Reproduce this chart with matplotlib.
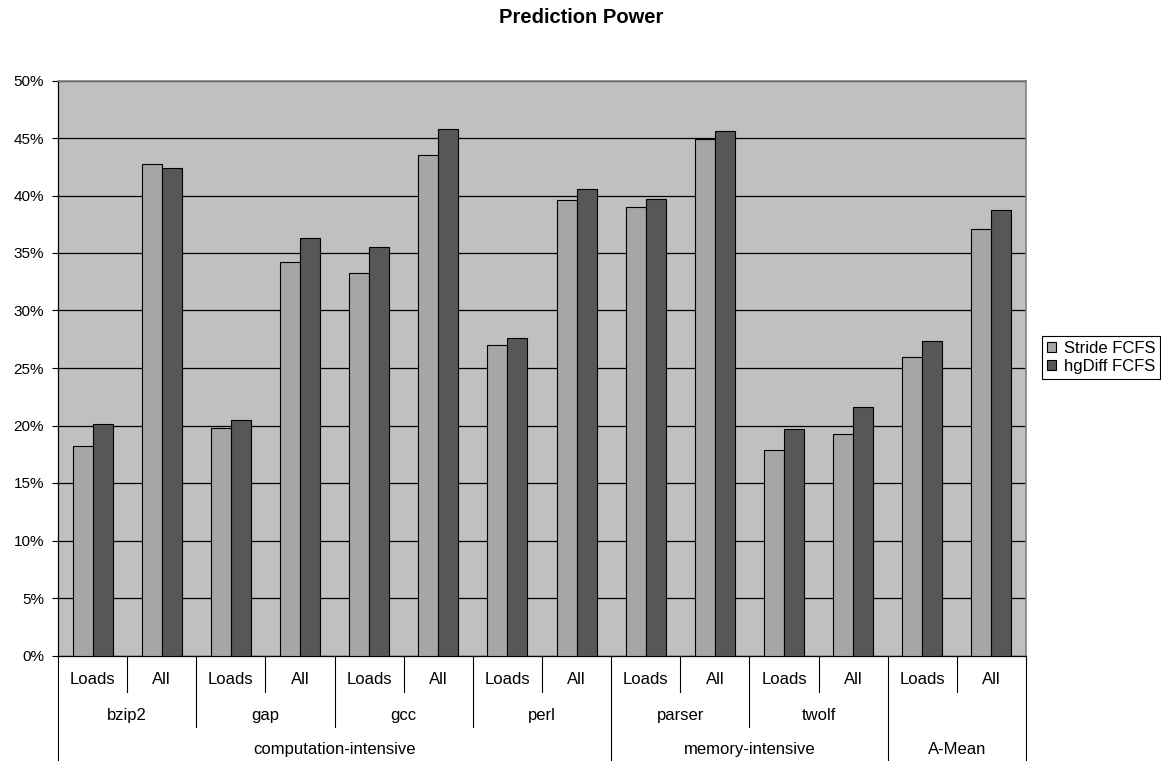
import matplotlib.pyplot as plt
from matplotlib.patches import Patch
from matplotlib.ticker import PercentFormatter
import numpy as np

plt.rcParams['font.family'] = ['Liberation Sans', 'DejaVu Sans']

sub_labels = ["Loads", "All"] * 7
benchmarks = ["bzip2", "gap", "gcc", "perl", "parser", "twolf", ""]
groups = ["computation-intensive", "memory-intensive", "A-Mean"]
group_sizes = [4, 2, 1]   # benchmarks per group

stride = [18.2, 42.7, 19.75, 34.2, 33.3, 43.5, 27.0, 39.6,
          39.0, 44.9, 17.9, 19.3, 26.0, 37.1]
hgdiff = [20.1, 42.4, 20.45, 36.3, 35.5, 45.8, 27.6, 40.6,
          39.7, 45.6, 19.7, 21.6, 27.35, 38.7]

c_stride = "#a6a6a6"
c_hg = "#575757"

fig = plt.figure(figsize=(11.61, 7.61), dpi=100)
ax = fig.add_axes([58/1161, 105.5/761, 968/1161, 575/761])
ax.set_facecolor("#c0c0c0")

x = np.arange(len(stride))
w = 0.29
ax.bar(x - w/2, np.array(stride)/100, w, color=c_stride, edgecolor="black", linewidth=0.8, zorder=3)
ax.bar(x + w/2, np.array(hgdiff)/100, w, color=c_hg, edgecolor="black", linewidth=0.8, zorder=3)

ax.set_xlim(-0.5, len(stride) - 0.5)
ax.set_ylim(0, 0.5)
ax.set_yticks(np.arange(0, 0.51, 0.05))
ax.yaxis.set_major_formatter(PercentFormatter(1.0, decimals=0))
ax.tick_params(axis='y', length=4, width=0.8, pad=6, labelsize=11, direction='out')
ax.set_xticks([])
ax.yaxis.grid(True, color="black", linewidth=0.9)
ax.set_axisbelow(True)
for s in ["top", "right"]:
    ax.spines[s].set_color("#808080")
    ax.spines[s].set_linewidth(1.2)
for s in ["left", "bottom"]:
    ax.spines[s].set_color("black")
    ax.spines[s].set_linewidth(0.9)

# multi-level category axis
tr = ax.get_xaxis_transform()
row1, row2, row3 = -0.0426, -0.1035, -0.1643
d1, d2, d3 = -0.0635, -0.1243, -0.184
fs = 12
for i, lab in enumerate(sub_labels):
    ax.text(i, row1, lab, transform=tr, ha="center", va="center", fontsize=fs)
for i in range(1, len(sub_labels), 2):
    ax.plot([i - 0.5, i - 0.5], [0, d1], transform=tr, color="black", lw=0.8, clip_on=False)
for j, b in enumerate(benchmarks):
    ax.text(2*j + 0.5, row2, b, transform=tr, ha="center", va="center", fontsize=fs)
start = 0
bounds = [0]
for g, n in zip(groups, group_sizes):
    lo = start*2 - 0.5
    hi = (start + n)*2 - 0.5
    ax.text((lo + hi)/2, row3, g, transform=tr, ha="center", va="center", fontsize=fs)
    for k in range(start + 1, start + n):
        ax.plot([2*k - 0.5, 2*k - 0.5], [0, d2], transform=tr, color="black", lw=0.8, clip_on=False)
    start += n
    bounds.append(start)
for b in bounds:
    ax.plot([2*b - 0.5, 2*b - 0.5], [0, d3], transform=tr, color="black", lw=0.8, clip_on=False)

fig.text(581/1161, 1 - 17.5/761, "Prediction Power", ha="center", va="center",
         fontsize=14.5, fontweight="bold")

handles = [Patch(facecolor=c_stride, edgecolor="black", linewidth=0.8),
           Patch(facecolor=c_hg, edgecolor="black", linewidth=0.8)]
leg = fig.legend(handles, ["Stride FCFS", "hgDiff FCFS"], loc="upper left",
                 bbox_to_anchor=(1042/1161, 1 - 336/761), fontsize=12,
                 fancybox=False, edgecolor="black", framealpha=1,
                 handlelength=0.55, handleheight=0.55, handletextpad=0.45,
                 borderpad=0.3, labelspacing=0.15, borderaxespad=0)
leg.get_frame().set_linewidth(0.8)

fig.savefig("out.png", dpi=100, facecolor="white")
